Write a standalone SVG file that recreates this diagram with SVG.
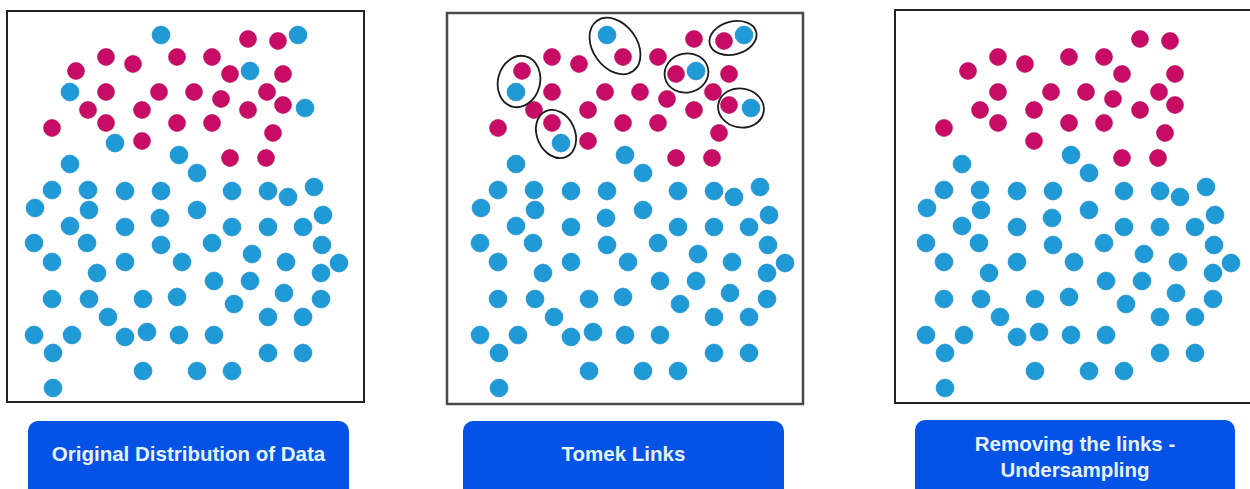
<svg xmlns="http://www.w3.org/2000/svg" xmlns:xlink="http://www.w3.org/1999/xlink" width="1250" height="489" viewBox="0 0 1250 489">
<style>
.pk{fill:#c80c66;stroke:#b0085a;stroke-width:0.6}
.bl{fill:#1f9ad6;stroke:#1a8cc6;stroke-width:0.6}
.frame{fill:#ffffff;stroke:#222;stroke-width:2}
.link{fill:none;stroke:#1c1c1c;stroke-width:1.8}
.btn{fill:#0552e6}
.lbl{font-family:"Liberation Sans",Arial,sans-serif;font-weight:bold;font-size:20.5px;fill:#e6f2ff;text-anchor:middle}
</style>
<defs>
<g id="pinkDots">
<circle class="pk" cx="76" cy="71" r="8.5"/><circle class="pk" cx="106" cy="57" r="8.5"/><circle class="pk" cx="133" cy="64" r="8.5"/><circle class="pk" cx="177" cy="57" r="8.5"/><circle class="pk" cx="212" cy="57" r="8.5"/><circle class="pk" cx="230" cy="74" r="8.5"/><circle class="pk" cx="248" cy="39" r="8.5"/><circle class="pk" cx="278" cy="41" r="8.5"/><circle class="pk" cx="283" cy="74" r="8.5"/>
<circle class="pk" cx="106" cy="92" r="8.5"/><circle class="pk" cx="159" cy="92" r="8.5"/><circle class="pk" cx="194" cy="92" r="8.5"/><circle class="pk" cx="221" cy="99" r="8.5"/><circle class="pk" cx="267" cy="92" r="8.5"/>
<circle class="pk" cx="88" cy="110" r="8.5"/><circle class="pk" cx="142" cy="110" r="8.5"/><circle class="pk" cx="248" cy="110" r="8.5"/><circle class="pk" cx="283" cy="105" r="8.5"/>
<circle class="pk" cx="52" cy="128" r="8.5"/><circle class="pk" cx="106" cy="123" r="8.5"/><circle class="pk" cx="177" cy="123" r="8.5"/><circle class="pk" cx="212" cy="123" r="8.5"/><circle class="pk" cx="273" cy="133" r="8.5"/>
<circle class="pk" cx="142" cy="141" r="8.5"/><circle class="pk" cx="230" cy="158" r="8.5"/><circle class="pk" cx="266" cy="158" r="8.5"/>
</g>
<g id="blueLinked">
<circle class="bl" cx="161" cy="35" r="9"/><circle class="bl" cx="298" cy="35" r="9"/><circle class="bl" cx="250" cy="71" r="9"/><circle class="bl" cx="70" cy="92" r="9"/><circle class="bl" cx="305" cy="108" r="9"/><circle class="bl" cx="115" cy="143" r="9"/>
</g>
<g id="blueRest">
<circle class="bl" cx="70" cy="164" r="9"/><circle class="bl" cx="179" cy="155" r="9"/><circle class="bl" cx="197" cy="173" r="9"/>
<circle class="bl" cx="52" cy="190" r="9"/><circle class="bl" cx="88" cy="190" r="9"/><circle class="bl" cx="125" cy="191" r="9"/><circle class="bl" cx="161" cy="191" r="9"/><circle class="bl" cx="232" cy="191" r="9"/><circle class="bl" cx="268" cy="191" r="9"/><circle class="bl" cx="288" cy="197" r="9"/><circle class="bl" cx="314" cy="187" r="9"/>
<circle class="bl" cx="35" cy="208" r="9"/><circle class="bl" cx="89" cy="210" r="9"/><circle class="bl" cx="160" cy="218" r="9"/><circle class="bl" cx="197" cy="210" r="9"/><circle class="bl" cx="323" cy="215" r="9"/>
<circle class="bl" cx="70" cy="226" r="9"/><circle class="bl" cx="125" cy="227" r="9"/><circle class="bl" cx="232" cy="227" r="9"/><circle class="bl" cx="268" cy="227" r="9"/><circle class="bl" cx="303" cy="227" r="9"/>
<circle class="bl" cx="34" cy="243" r="9"/><circle class="bl" cx="87" cy="243" r="9"/><circle class="bl" cx="161" cy="245" r="9"/><circle class="bl" cx="212" cy="243" r="9"/><circle class="bl" cx="322" cy="245" r="9"/><circle class="bl" cx="252" cy="254" r="9"/>
<circle class="bl" cx="52" cy="262" r="9"/><circle class="bl" cx="125" cy="262" r="9"/><circle class="bl" cx="182" cy="262" r="9"/><circle class="bl" cx="286" cy="262" r="9"/><circle class="bl" cx="339" cy="263" r="9"/>
<circle class="bl" cx="97" cy="273" r="9"/><circle class="bl" cx="321" cy="273" r="9"/><circle class="bl" cx="214" cy="281" r="9"/><circle class="bl" cx="250" cy="281" r="9"/>
<circle class="bl" cx="52" cy="299" r="9"/><circle class="bl" cx="89" cy="299" r="9"/><circle class="bl" cx="143" cy="299" r="9"/><circle class="bl" cx="177" cy="297" r="9"/><circle class="bl" cx="234" cy="304" r="9"/><circle class="bl" cx="284" cy="293" r="9"/><circle class="bl" cx="321" cy="299" r="9"/>
<circle class="bl" cx="108" cy="317" r="9"/><circle class="bl" cx="268" cy="317" r="9"/><circle class="bl" cx="303" cy="317" r="9"/>
<circle class="bl" cx="34" cy="335" r="9"/><circle class="bl" cx="72" cy="335" r="9"/><circle class="bl" cx="125" cy="337" r="9"/><circle class="bl" cx="147" cy="332" r="9"/><circle class="bl" cx="179" cy="335" r="9"/><circle class="bl" cx="214" cy="335" r="9"/>
<circle class="bl" cx="53" cy="353" r="9"/><circle class="bl" cx="268" cy="353" r="9"/><circle class="bl" cx="303" cy="353" r="9"/>
<circle class="bl" cx="143" cy="371" r="9"/><circle class="bl" cx="197" cy="371" r="9"/><circle class="bl" cx="232" cy="371" r="9"/>
<circle class="bl" cx="53" cy="388" r="9"/>
</g>
</defs>
<rect width="1250" height="489" fill="#ffffff"/>

<g id="panel-original">
<rect class="frame" x="7" y="11" width="357" height="391"/>
<use xlink:href="#pinkDots" href="#pinkDots"/>
<use xlink:href="#blueLinked" href="#blueLinked"/>
<use xlink:href="#blueRest" href="#blueRest"/>
</g>

<g id="panel-tomek">
<rect class="frame" x="447" y="13" width="356" height="391" style="stroke:#4a4a4a;stroke-width:2.5"/>
<g transform="translate(446,0)">
<use xlink:href="#pinkDots" href="#pinkDots"/>
<use xlink:href="#blueLinked" href="#blueLinked"/>
<use xlink:href="#blueRest" href="#blueRest"/>
</g>
<g id="tomek-links">
<ellipse class="link" cx="519" cy="81.5" rx="26" ry="21" transform="rotate(105 519 81.5)"/>
<ellipse class="link" cx="615" cy="46" rx="31" ry="22" transform="rotate(54 615 46)"/>
<ellipse class="link" cx="686.5" cy="73" rx="22" ry="19.5" transform="rotate(-12 686.5 73)"/>
<ellipse class="link" cx="733" cy="38" rx="24" ry="16.5" transform="rotate(-15 733 38)"/>
<ellipse class="link" cx="741" cy="108" rx="23" ry="19.5" transform="rotate(10 741 108)"/>
<ellipse class="link" cx="556" cy="134" rx="25" ry="19" transform="rotate(66 556 134)"/>
</g>
</g>

<g id="panel-removed">
<rect class="frame" x="895" y="10" width="370" height="393"/>
<g transform="translate(892,0)">
<use xlink:href="#pinkDots" href="#pinkDots"/>
<use xlink:href="#blueRest" href="#blueRest"/>
</g>
</g>

<g id="btn-original">
<rect class="btn" x="28" y="421" width="321" height="80" rx="10"/>
<text class="lbl" x="188.5" y="461">Original Distribution of Data</text>
</g>
<g id="btn-tomek">
<rect class="btn" x="463" y="421" width="321" height="80" rx="10"/>
<text class="lbl" x="623.5" y="461">Tomek Links</text>
</g>
<g id="btn-removed">
<rect class="btn" x="915" y="420" width="320" height="80" rx="10"/>
<text class="lbl" x="1075" y="451">Removing the links -</text>
<text class="lbl" x="1075" y="477">Undersampling</text>
</g>
</svg>
